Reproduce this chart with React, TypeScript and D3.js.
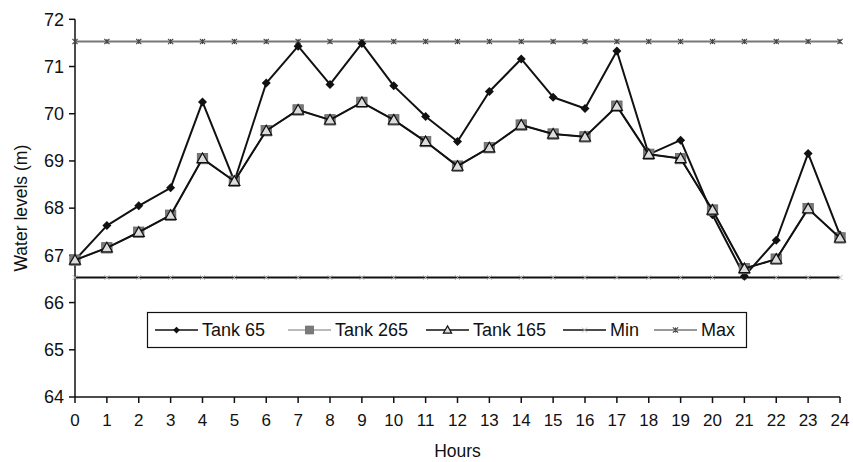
import React from "react";
import * as d3 from "d3";

const hours = d3.range(0, 25);
const tank65 = [66.9, 67.63, 68.05, 68.43, 70.25, 68.57, 70.65, 71.43, 70.62, 71.49, 70.59, 69.94, 69.41, 70.47, 71.16, 70.35, 70.11, 71.33, 69.14, 69.44, 67.86, 66.56, 67.32, 69.16, 67.43];
const tank265 = [66.9, 67.16, 67.49, 67.85, 69.05, 68.57, 69.64, 70.08, 69.87, 70.24, 69.87, 69.41, 68.89, 69.28, 69.76, 69.57, 69.51, 70.16, 69.14, 69.05, 67.96, 66.72, 66.92, 67.99, 67.37];
const tank165 = [66.9, 67.16, 67.49, 67.85, 69.05, 68.57, 69.64, 70.08, 69.87, 70.24, 69.87, 69.41, 68.89, 69.28, 69.76, 69.57, 69.51, 70.16, 69.14, 69.05, 67.96, 66.72, 66.92, 67.99, 67.37];
const minLevel = hours.map(() => 66.53);
const maxLevel = hours.map(() => 71.53);
const yTicks = [64, 65, 66, 67, 68, 69, 70, 71, 72];
const legendLabels = ["Tank 65", "Tank 265", "Tank 165", "Min", "Max"];

const W = 853, H = 462;
const L = 75, R = 840, T = 19.3, B = 397;
const FONT = "Liberation Sans, Arial, sans-serif";

type MarkerKind = "diamond" | "square" | "triangle" | "x" | "star";

function Marker({ kind, x, y, legend = false }: { kind: MarkerKind; x: number; y: number; legend?: boolean }) {
  const s = legend ? 0.75 : 1;
  if (kind === "diamond") {
    const r = 4.5 * s;
    return <path d={`M${x},${y - r}L${x + r},${y}L${x},${y + r}L${x - r},${y}Z`} fill="#111" />;
  }
  if (kind === "square") {
    const r = 5.2 * s;
    return <rect x={x - r} y={y - r} width={2 * r} height={2 * r} fill="#7a7a7a" stroke="#666" strokeWidth={0.8} />;
  }
  if (kind === "triangle") {
    const r = 5.5 * s;
    return <path d={`M${x},${y - r}L${x + r},${y + r * 0.75}L${x - r},${y + r * 0.75}Z`} fill="#ddd" stroke="#111" strokeWidth={1.2} />;
  }
  if (kind === "x") {
    const r = 2.5;
    return <path d={`M${x - r},${y - r}L${x + r},${y + r}M${x - r},${y + r}L${x + r},${y - r}`} stroke="#bbb" strokeWidth={1} />;
  }
  const r = 2.6;
  return (
    <path
      d={`M${x - r},${y - r}L${x + r},${y + r}M${x - r},${y + r}L${x + r},${y - r}M${x},${y - r}L${x},${y + r}`}
      stroke="#444"
      strokeWidth={1.1}
    />
  );
}

export default function App() {
  const x = d3.scaleLinear().domain([0, 24]).range([L, R]);
  const y = d3.scaleLinear().domain([64, 72]).range([B, T]);
  const line = d3.line<number>().x((_, i) => x(hours[i])).y((d) => y(d));

  const series: { data: number[]; color: string; width: number; marker: MarkerKind }[] = [
    { data: minLevel, color: "#111", width: 2, marker: "x" },
    { data: maxLevel, color: "#777", width: 2.2, marker: "star" },
    { data: tank65, color: "#111", width: 2, marker: "diamond" },
    { data: tank265, color: "#555", width: 1.5, marker: "square" },
    { data: tank165, color: "#111", width: 2, marker: "triangle" },
  ];

  const legendItems: { label: string; color: string; width: number; marker: MarkerKind; x0: number }[] = [
    { label: legendLabels[0], color: "#111", width: 1.5, marker: "diamond", x0: 155 },
    { label: legendLabels[1], color: "#777", width: 1, marker: "square", x0: 288 },
    { label: legendLabels[2], color: "#111", width: 1.5, marker: "triangle", x0: 426 },
    { label: legendLabels[3], color: "#111", width: 1.5, marker: "x", x0: 563 },
    { label: legendLabels[4], color: "#777", width: 1.5, marker: "star", x0: 654 },
  ];
  const legY = 330;

  return (
    <svg width={W} height={H} style={{ position: "absolute", left: 0, top: 0, background: "#fff" }} fontFamily={FONT}>
      <line x1={L} x2={L} y1={T} y2={B} stroke="#111" strokeWidth={1.5} />
      <line x1={L} x2={R} y1={B} y2={B} stroke="#111" strokeWidth={1.5} />
      {yTicks.map((t) => (
        <g key={t}>
          <line x1={L - 6} x2={L} y1={y(t)} y2={y(t)} stroke="#111" strokeWidth={1.5} />
          <text x={L - 11} y={y(t)} dy="0.35em" textAnchor="end" fontSize={18} fill="#111">
            {t}
          </text>
        </g>
      ))}
      {hours.map((h) => (
        <g key={h}>
          <line x1={x(h)} x2={x(h)} y1={B} y2={B + 6} stroke="#111" strokeWidth={1.5} />
          <text x={x(h)} y={420} dy="0.35em" textAnchor="middle" fontSize={17} fill="#111">
            {h}
          </text>
        </g>
      ))}
      <text x={(L + R) / 2} y={451} dy="0.35em" textAnchor="middle" fontSize={17.5} fill="#111">
        Hours
      </text>
      <text transform={`translate(21,${(T + B) / 2}) rotate(-90)`} textAnchor="middle" dy="0.35em" fontSize={17.5} fill="#111">
        Water levels (m)
      </text>

      {series.map((s, si) => (
        <g key={si}>
          <path d={line(s.data) || ""} fill="none" stroke={s.color} strokeWidth={s.width} strokeLinejoin="round" />
          {s.data.map((v, i) => (
            <Marker key={i} kind={s.marker} x={x(hours[i])} y={y(v)} />
          ))}
        </g>
      ))}

      <rect x={147.5} y={312.5} width={599} height={35} fill="#fff" stroke="#111" strokeWidth={1.2} />
      {legendItems.map((it) => (
        <g key={it.label}>
          <line x1={it.x0} x2={it.x0 + 43} y1={legY} y2={legY} stroke={it.color} strokeWidth={it.width} />
          <Marker kind={it.marker} x={it.x0 + 21.5} y={legY} legend />
          <text x={it.x0 + 47} y={legY} dy="0.35em" fontSize={18} fill="#111">
            {it.label}
          </text>
        </g>
      ))}
    </svg>
  );
}
